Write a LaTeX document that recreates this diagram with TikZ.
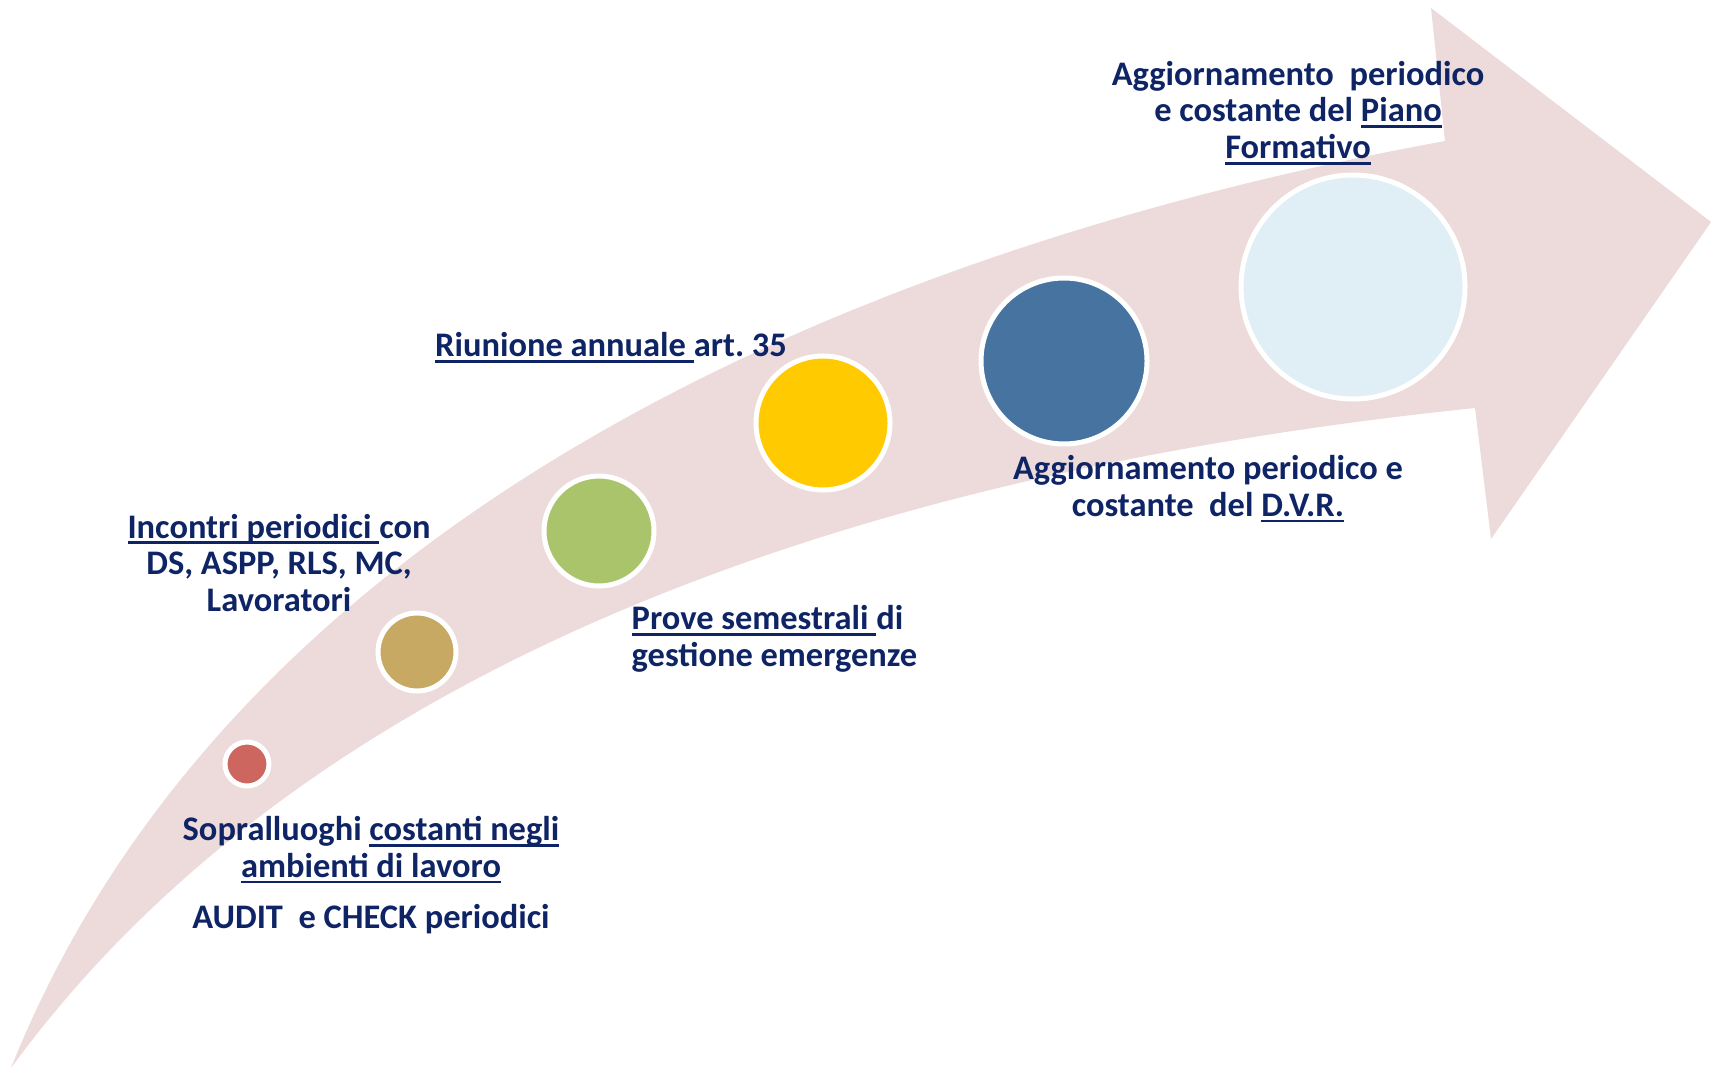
\documentclass[tikz,border=0pt]{standalone}
\usepackage{fontspec}
\setmainfont{Carlito}
\usetikzlibrary{positioning}
\frenchspacing
\definecolor{arrowpink}{RGB}{237,218,218}
\definecolor{navytext}{RGB}{14,36,100}
\definecolor{dotred}{RGB}{205,102,95}
\definecolor{dottan}{RGB}{200,169,100}
\definecolor{dotgreen}{RGB}{170,196,108}
\definecolor{dotyellow}{RGB}{255,202,0}
\definecolor{dotblue}{RGB}{70,115,160}
\definecolor{dotpale}{RGB}{224,239,245}
\newcommand{\ulin}[1]{\setbox0=\hbox{#1}\rlap{\smash{\raisebox{-1.7pt}{\rule{\wd0}{0.75pt}}}}\box0}
\tikzset{%
	milestone/.style={draw=white, line width=0.5mm, circle, inner sep=0mm, minimum size=#1},
	note/.style={text=navytext, font=\fontsize{9.8}{10.5}\selectfont\bfseries, inner sep=0mm, align=center}
}

\begin{document}
\begin{tikzpicture}[x=0.1mm, y=-0.1mm]
	\useasboundingbox (0,0) rectangle (1720,1070);
	% the big curved arrow
	\coordinate (tail) at (11,1068);
	\coordinate (neckup) at (1445,141);
	\coordinate (barbup) at (1431,8);
	\coordinate (tip) at (1711,222);
	\coordinate (barblow) at (1491,539);
	\coordinate (necklow) at (1475,408);
	\fill[arrowpink] (tail) .. controls (230,520) and (850,250) .. (neckup) -- (barbup) -- (tip)
		-- (barblow) -- (necklow) .. controls (780,480) and (280,700) .. (tail) -- cycle;

	% milestones
	\node[milestone=4.4mm, fill=dotred] (m1) at (247,764) {};
	\node[milestone=7.8mm, fill=dottan] (m2) at (417,652) {};
	\node[milestone=11mm, fill=dotgreen] (m3) at (599,531) {};
	\node[milestone=13.4mm, fill=dotyellow] (m4) at (823,423) {};
	\node[milestone=16.6mm, fill=dotblue] (m5) at (1064,361) {};
	\node[milestone=22.4mm, fill=dotpale] (m6) at (1353,287) {};

	% labels
	\node[note] (sopr) at (371,847) {Sopralluoghi \ulin{costanti negli}\\ \ulin{ambienti di lavoro}};
	\node[note, below=2.5mm of sopr] (audit) {AUDIT\ \ e CHECK periodici};
	\node[note] (incontri) at (279,563) {\ulin{Incontri periodici }con\\ DS, ASPP, RLS, MC,\\ Lavoratori};
	\node[note, anchor=west, align=left] (prove) at (631,639) {\ulin{Prove semestrali }di\\ gestione emergenze};
	\node[note] (riun) at (611,345) {\ulin{Riunione annuale }art. 35};
	\node[note] (dvr) at (1208,486) {Aggiornamento periodico e\\ costante\ \ del \ulin{D.V.R.}};
	\node[note] (piano) at (1298,110) {Aggiornamento\ \ periodico\\ e costante del \ulin{Piano}\\ \ulin{Formativo}};
\end{tikzpicture}
\end{document}
